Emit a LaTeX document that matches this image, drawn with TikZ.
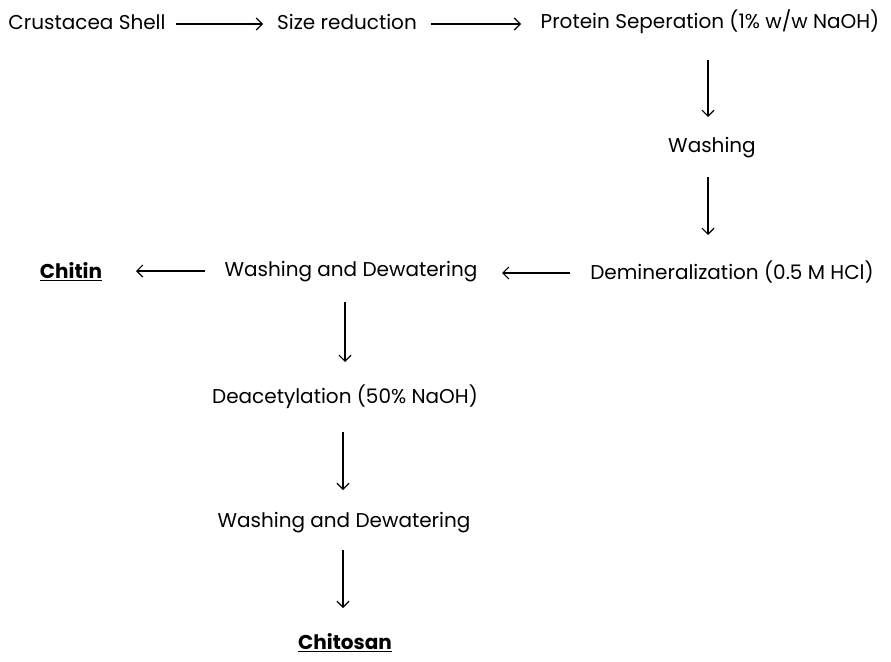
\documentclass[tikz,border=0pt]{standalone}
\usepackage{fontspec}
\setmainfont{Poppins}
\usetikzlibrary{arrows.meta}
\begin{document}
\begin{tikzpicture}[x=1pt,y=-1pt,
  lbl/.style={inner sep=0pt,font=\fontsize{20}{24}\selectfont,text=black},
  fin/.style={lbl,font=\fontsize{20}{24}\selectfont\bfseries},
  arr/.style={draw=black,line width=1.2pt,-{Straight Barb[length=6pt,width=12pt,line width=1.2pt]}}]
\useasboundingbox (0,0) rectangle (891,661);
\node[lbl] (crust) at (87,22) {Crustacea Shell};
\node[lbl] (size) at (347,22) {Size reduction};
\node[lbl] (prot) at (710,22) {Protein Seperation (1\% w/w NaOH)};
\node[lbl] (wash1) at (712,148) {Washing};
\node[lbl] (demin) at (732,272) {Demineralization (0.5 M HCl)};
\node[lbl] (wash2) at (351,272) {Washing and Dewatering};
\node[fin] (chitin) at (71,272) {\underline{Chitin}};
\node[lbl] (deac) at (345,397) {Deacetylation (50\% NaOH)};
\node[lbl] (wash3) at (344,523) {Washing and Dewatering};
\node[fin] (chitosan) at (345,643) {\underline{Chitosan}};
\coordinate (a1s) at (176,24); \coordinate (a1e) at (263,24);
\coordinate (a2s) at (431,24); \coordinate (a2e) at (521,24);
\coordinate (a3s) at (708,60); \coordinate (a3e) at (708,117);
\coordinate (a4s) at (708,177); \coordinate (a4e) at (708,235);
\coordinate (a5s) at (570,273); \coordinate (a5e) at (502,273);
\coordinate (a6s) at (205,271); \coordinate (a6e) at (136,271);
\coordinate (a7s) at (345,302); \coordinate (a7e) at (345,362);
\coordinate (a8s) at (343,432); \coordinate (a8e) at (343,490);
\coordinate (a9s) at (343,550); \coordinate (a9e) at (343,608);
\draw[arr] (a1s) -- (a1e);
\draw[arr] (a2s) -- (a2e);
\draw[arr] (a3s) -- (a3e);
\draw[arr] (a4s) -- (a4e);
\draw[arr] (a5s) -- (a5e);
\draw[arr] (a6s) -- (a6e);
\draw[arr] (a7s) -- (a7e);
\draw[arr] (a8s) -- (a8e);
\draw[arr] (a9s) -- (a9e);
\end{tikzpicture}
\end{document}
